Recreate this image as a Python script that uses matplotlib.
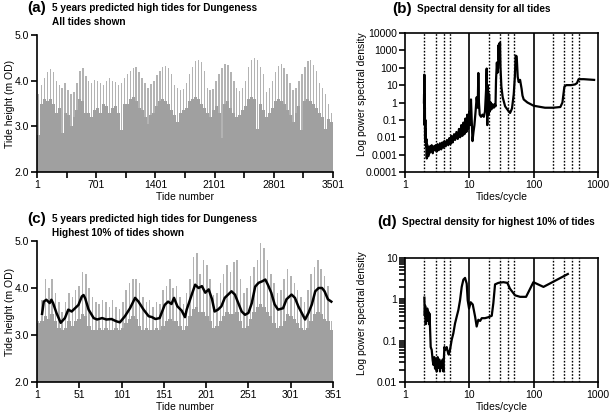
import numpy as np
import matplotlib
matplotlib.use('Agg')
import matplotlib.pyplot as plt
from matplotlib.ticker import FuncFormatter, LogLocator, NullLocator

plt.rcParams['font.family'] = ['Liberation Sans', 'DejaVu Sans']

# (a) all 3501 high tides, read as spring peaks / neap base per bin
a_high = [3.7, 3.9, 4.05, 4.2, 4.25, 4.2, 4.0, 3.9, 3.85, 3.95,
          3.8, 3.7, 3.75, 3.95, 4.22, 4.27, 4.1, 4.0, 3.95, 4.02,
          4.0, 3.95, 3.9, 4.0, 4.05, 4.0, 3.98, 3.9, 3.95, 4.05,
          4.15, 4.22, 4.27, 4.3, 4.2, 4.05, 3.95, 3.85, 3.92, 4.0,
          4.12, 4.22, 4.3, 4.33, 4.28, 4.15, 3.9, 3.85, 3.8, 3.82,
          3.95, 4.15, 4.3, 4.42, 4.46, 4.4, 4.22, 3.85, 3.8, 3.82,
          4.0, 4.15, 4.27, 4.37, 4.35, 4.2, 4.0, 3.85, 3.78, 3.85,
          4.0, 4.3, 4.45, 4.5, 4.45, 4.3, 4.15, 3.75, 3.85, 4.0,
          4.2, 4.33, 4.36, 4.28, 4.15, 3.95, 3.8, 3.85, 4.0, 4.15,
          4.3, 4.42, 4.45, 4.35, 4.22, 3.95, 3.85, 3.7, 3.5, 3.3]
a_low = [2.8, 3.5, 3.6, 3.55, 3.6, 3.5, 3.3, 3.4, 2.85, 3.3,
         3.25, 3.0, 3.2, 3.35, 3.6, 3.55, 3.3, 3.3, 3.2, 3.35,
         3.4, 3.3, 3.5, 3.45, 3.3, 3.4, 3.45, 3.3, 2.92, 3.5,
         3.5, 3.6, 3.65, 3.55, 3.4, 3.35, 3.2, 3.05, 3.25, 3.3,
         3.45, 3.55, 3.6, 3.55, 3.5, 3.35, 3.25, 3.1, 3.3, 3.35,
         3.4, 3.55, 3.6, 3.65, 3.6, 3.5, 3.4, 3.3, 3.2, 3.35,
         3.45, 3.3, 2.75, 3.5, 3.55, 3.4, 3.3, 3.2, 3.25, 3.35,
         3.45, 3.6, 3.65, 3.6, 2.95, 3.5, 3.35, 3.2, 3.3, 3.4,
         3.55, 3.6, 3.55, 3.5, 3.35, 3.25, 3.1, 3.3, 3.45, 2.92,
         3.55, 3.6, 3.55, 3.5, 3.4, 3.3, 3.2, 2.95, 3.15, 3.1]

# (c) highest 10% (351 tides)
c_high = [3.3, 3.75, 4.2, 4.0, 4.2, 3.9, 3.7, 3.5, 3.7, 3.9,
          3.8, 3.95, 4.05, 4.35, 4.3, 4.0, 3.8, 3.7, 3.65, 3.75,
          3.7, 3.6, 3.75, 3.6, 3.55, 3.7, 3.95, 4.1, 4.2, 4.2,
          4.1, 3.8, 3.7, 3.75, 3.6, 3.7, 3.65, 3.95, 4.05, 4.2,
          4.0, 4.05, 3.8, 3.65, 3.9, 4.2, 4.65, 4.75, 4.3, 4.6,
          4.5, 4.2, 3.85, 3.9, 4.1, 4.3, 4.5, 4.35, 4.55, 4.6,
          4.2, 3.9, 4.0, 4.25, 4.45, 4.6, 4.95, 4.85, 4.6, 4.3,
          4.1, 3.9, 3.95, 4.2, 4.4, 4.25, 4.1, 3.95, 3.8, 3.7,
          3.95, 4.3, 4.45, 4.6, 4.4, 4.25, 4.05, 3.3]
c_low = [3.25, 3.3, 3.4, 3.35, 3.45, 3.3, 3.15, 3.1, 3.15, 3.3,
         3.2, 3.3, 3.35, 3.45, 3.4, 3.2, 3.1, 3.1, 3.15, 3.1,
         3.15, 3.1, 3.1, 3.15, 3.1, 3.15, 3.25, 3.35, 3.4, 3.35,
         3.2, 3.1, 3.15, 3.1, 3.1, 3.15, 3.1, 3.2, 3.3, 3.35,
         3.3, 3.3, 3.2, 3.1, 3.2, 3.4, 3.55, 3.6, 3.5, 3.5,
         3.4, 3.3, 3.15, 3.2, 3.3, 3.4, 3.5, 3.45, 3.45, 3.5,
         3.3, 3.15, 3.2, 3.35, 3.5, 3.6, 3.65, 3.6, 3.5, 3.4,
         3.25, 3.15, 3.2, 3.3, 3.45, 3.4, 3.35, 3.25, 3.15, 3.1,
         3.15, 3.3, 3.45, 3.5, 3.45, 3.35, 3.3, 3.1]
c_ma_tide = [7, 9, 12, 16, 18, 20, 24, 29, 34, 38, 42, 46, 50, 54, 56, 58, 62,
             68, 72, 78, 83, 89, 95, 99, 105, 111, 117, 121, 127, 133, 137,
             141, 146, 152, 156, 160, 163, 167, 172, 176, 178, 184, 188, 192,
             196, 200, 204, 208, 211, 215, 219, 223, 227, 231, 235, 239, 243,
             247, 251, 255, 259, 263, 267, 271, 274, 278, 282, 286, 292, 296,
             302, 306, 310, 314, 318, 322, 326, 330, 334, 338, 341, 345, 349]
c_ma = [3.45, 3.71, 3.75, 3.68, 3.75, 3.68, 3.47, 3.26, 3.36, 3.54, 3.50,
        3.57, 3.64, 3.82, 3.85, 3.78, 3.54, 3.36, 3.33, 3.36, 3.33, 3.34,
        3.29, 3.27, 3.40, 3.57, 3.79, 3.71, 3.54, 3.40, 3.38, 3.34, 3.36,
        3.64, 3.71, 3.66, 3.79, 3.61, 3.52, 3.38, 3.54, 3.86, 4.07, 4.0,
        4.04, 3.90, 3.97, 3.76, 3.50, 3.54, 3.61, 3.79, 3.86, 3.93, 3.86,
        3.68, 3.50, 3.43, 3.47, 3.68, 4.03, 4.11, 4.14, 4.18, 4.07, 3.90,
        3.65, 3.54, 3.57, 3.76, 3.86, 3.79, 3.61, 3.47, 3.33, 3.47, 3.65,
        3.93, 4.0, 4.0, 3.93, 3.76, 3.71]

# (b) spectral density, all tides
b_freq = [1.97, 1.98, 1.99, 2.0, 2.01, 2.02, 2.04, 2.05, 2.07, 2.08, 2.1,
          2.12, 2.15, 2.18, 2.2, 2.23, 2.26, 2.3, 2.35, 2.4, 2.45, 2.5, 2.6,
          2.7, 2.8, 2.9, 3.0, 3.1, 3.2, 3.35, 3.5, 3.65, 3.8, 3.95, 4.1, 4.3,
          4.5, 4.7, 4.9, 5.1, 5.3, 5.5, 5.8, 6.0, 6.3, 6.6, 6.9, 7.2, 7.5,
          7.8, 8.1, 8.4, 8.7, 9.0, 9.3, 9.6, 10.0, 10.3, 10.6, 10.9, 11.2,
          11.6, 12.0, 12.5, 13.0, 13.5, 13.8, 14.1, 14.5, 15.2, 16, 16.8,
          17.5, 18.2, 18.6, 19.0, 19.4, 19.8, 20.3, 20.8, 21.5, 22, 23, 24,
          25, 25.5, 26, 26.8, 27.3, 28, 28.4, 28.8, 29.2, 29.6, 30.0, 30.5,
          31.5, 33, 36, 40, 43, 46, 49, 51, 52.5, 54.5, 56.5, 58.5, 60, 61.5,
          63, 65, 67, 70, 80, 100, 150, 200, 260, 280, 300, 320, 380, 440,
          470, 500, 600, 870]
b_psd = [1.0, 3.0, 0.5, 40, 2, 0.05, 0.5, 0.01, 0.1, 0.005, 0.03,
         0.003, 0.008, 0.0006, 0.004, 0.001, 0.003, 0.0008, 0.0025, 0.0012,
         0.003, 0.0015, 0.0035, 0.0012, 0.003, 0.0018, 0.0035, 0.0015, 0.004,
         0.0018, 0.0045, 0.002, 0.005, 0.0025, 0.006, 0.003, 0.007, 0.0035,
         0.009, 0.004, 0.012, 0.005, 0.015, 0.007, 0.02, 0.008, 0.03, 0.01,
         0.05, 0.012, 0.07, 0.015, 0.12, 0.02, 0.2, 0.03, 0.3, 0.05, 1.5, 0.1,
         0.006, 0.02, 0.05, 0.3, 2, 0.5, 50, 1, 0.2, 0.15, 0.2, 0.15,
         0.3, 5, 90, 0.05, 10, 0.2, 3, 0.3, 1, 0.4, 0.8, 0.5,
         0.8, 0.6, 20, 200, 50, 100, 2000, 300, 2500, 500, 2800, 100,
         8, 2, 0.6, 0.35, 0.25, 0.45, 3, 30, 500, 450, 30, 15, 18, 20,
         12, 6, 2.5, 1.5, 1.0, 0.65, 0.5, 0.5, 0.55, 1, 8, 10, 10, 11,
         13, 22, 22, 20]

# (d) spectral density, highest 10%
d_freq = [2.0, 2.03, 2.06, 2.1, 2.14, 2.18, 2.22, 2.27, 2.31, 2.36, 2.41,
          2.45, 2.51, 2.6, 2.69, 2.76, 2.86, 2.93, 3.03, 3.11, 3.22, 3.3,
          3.42, 3.5, 3.63, 3.72, 3.85, 3.95, 4.09, 4.24, 4.45, 4.61, 4.78,
          5.01, 5.32, 5.64, 5.99, 6.36, 6.75, 7.17, 7.61, 8.08, 8.58, 9.1,
          9.43, 9.9, 10.5, 11.3, 12.3, 13.0, 13.8, 14.7, 15.6, 17.5, 19.8,
          22.3, 23.6, 25.1, 28.3, 33.8, 39.0, 42.9, 51.4, 61.4, 76.2, 99,
          142, 340]
d_psd = [1.1, 0.4, 0.7, 0.25, 0.5, 0.3, 0.6, 0.3, 0.5, 0.25, 0.45,
         0.2, 0.07, 0.06, 0.034, 0.026, 0.04, 0.021, 0.035, 0.018, 0.04,
         0.022, 0.035, 0.018, 0.03, 0.022, 0.035, 0.018, 0.07, 0.06, 0.07,
         0.055, 0.046, 0.06, 0.105, 0.15, 0.26, 0.38, 0.55, 0.95, 2.0, 3.0,
         3.3, 2.4, 0.95, 0.6, 0.85, 0.75, 0.38, 0.22, 0.32, 0.3, 0.35, 0.35,
         0.37, 0.4, 0.8, 2.3, 2.5, 2.6, 2.5, 1.8, 1.25, 1.15, 1.15, 2.6,
         2.0, 4.1]

dotted_f = [2, 3, 4, 5, 20, 30, 40, 50, 200, 300, 400, 500]
solid_f = [10, 100]

W, H = 611, 412
fig = plt.figure(figsize=(W / 100, H / 100), dpi=100)


def add_ax(l, t, r, b):
    return fig.add_axes([l / W, 1 - b / H, (r - l) / W, (b - t) / H])


def style(ax, box):
    for s in ax.spines.values():
        s.set_linewidth(1.2)
    if not box:
        ax.spines['top'].set_visible(False)
        ax.spines['right'].set_visible(False)
    ax.tick_params(which='both', direction='out', length=4, width=1.2,
                   labelsize=7.5, pad=1.5)


def heading(x, y, letter, lines):
    fig.text(x / W, 1 - y / H, letter, fontsize=11, fontweight='bold')
    for k, ln in enumerate(lines):
        fig.text((x + 25) / W, 1 - (y - 1 + 14 * k) / H, ln, fontsize=7.2,
                 fontweight='bold')


def tide_panel(ax, n_tides, high, low, xt, minor):
    e = np.linspace(1, n_tides, len(high) + 1)
    ax.bar((e[:-1] + e[1:]) / 2, high, width=(e[1] - e[0]) * 0.45,
           color='#b3b3b3', linewidth=0)
    e = np.linspace(1, n_tides, len(low) + 1)
    ax.bar((e[:-1] + e[1:]) / 2, low, width=e[1] - e[0],
           color='#a0a0a0', linewidth=0)
    ax.set_xlim(1, n_tides)
    ax.set_ylim(2, 5)
    ax.set_xticks(xt)
    ax.set_xticks(minor, minor=True)
    ax.set_yticks([2, 3, 4, 5])
    ax.set_yticklabels(['2.0', '3.0', '4.0', '5.0'])
    ax.set_xlabel('Tide number', fontsize=7.5, labelpad=1.5)
    ax.set_ylabel('Tide height (m OD)', fontsize=7.5)
    ax.yaxis.set_label_coords(-0.074, 0.5)
    style(ax, False)


def spec_panel(ax, f, p, ylo, yhi, minor_y, label_y):
    for v in dotted_f:
        ax.axvline(v, color='k', lw=1.0, ls=(0, (1.2, 1.2)))
    for v in solid_f:
        ax.axvline(v, color='k', lw=1.2)
    ax.plot(f, p, color='k', lw=1.6)
    ax.set_xscale('log')
    ax.set_yscale('log')
    ax.set_xlim(1, 1000)
    ax.set_ylim(ylo, yhi)
    ax.set_xticks([1, 10, 100, 1000])
    ax.xaxis.set_minor_locator(NullLocator())
    fmt = FuncFormatter(lambda v, pos: f'{v:g}')
    ax.xaxis.set_major_formatter(fmt)
    ax.yaxis.set_major_formatter(fmt)
    ax.yaxis.set_major_locator(LogLocator(base=10, numticks=20))
    if minor_y:
        ax.yaxis.set_minor_locator(LogLocator(base=10, subs=np.arange(2, 10),
                                              numticks=20))
    else:
        ax.yaxis.set_minor_locator(NullLocator())
    ax.set_xlabel('Tides/cycle', fontsize=7.5, labelpad=1.5)
    ax.set_ylabel('Log power spectral density', fontsize=7.5)
    ax.yaxis.set_label_coords(-0.197, label_y)
    style(ax, True)


ax_a = add_ax(37, 35, 333, 172)
tide_panel(ax_a, 3501, a_high, a_low, [1, 701, 1401, 2101, 2801, 3501],
           [351, 1051, 1751, 2451, 3151])
heading(27, 12, '(a)', ['5 years predicted high tides for Dungeness',
                        'All tides shown'])

ax_c = add_ax(37, 241, 333, 382)
tide_panel(ax_c, 351, c_high, c_low, [1, 51, 101, 151, 201, 251, 301, 351], [])
ax_c.plot(c_ma_tide, c_ma, color='k', lw=1.8)
heading(27, 223, '(c)', ['5 years predicted high tides for Dungeness',
                         'Highest 10% of tides shown'])

ax_b = add_ax(405, 33, 598, 172)
spec_panel(ax_b, b_freq, b_psd, 1e-4, 1e4, False, 0.56)
heading(392, 13, '(b)', ['Spectral density for all tides'])

ax_d = add_ax(405, 258, 598, 382)
spec_panel(ax_d, d_freq, d_psd, 0.01, 10, True, 0.555)
heading(377, 226, '(d)', ['Spectral density for highest 10% of tides'])

fig.savefig('out.png', dpi=100)
